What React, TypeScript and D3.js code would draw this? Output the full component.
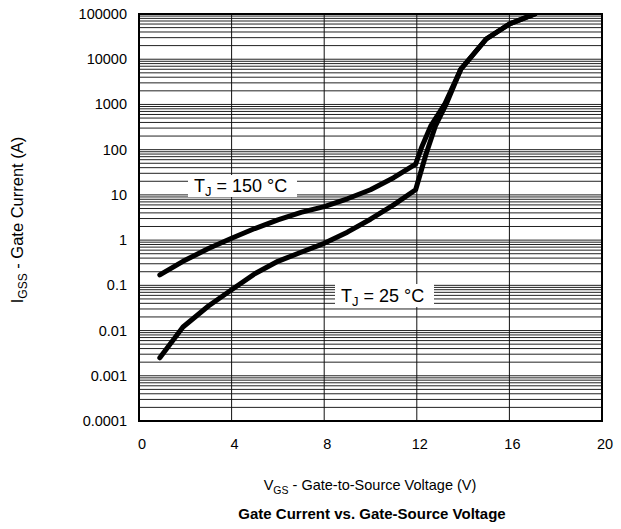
import * as d3 from "d3";
import React from "react";

// T_J = 150 °C curve
const vgs150 = [0.9, 1.9, 3, 4, 5, 6, 7, 8, 9, 10, 11, 11.95, 12.2, 12.6, 13.2, 13.9, 15, 16, 17.1];
const igss150 = [0.17, 0.34, 0.65, 1.1, 1.8, 2.8, 4.1, 5.5, 8.2, 13, 24, 48, 110, 330, 1000, 6000, 28000, 60000, 100000];

// T_J = 25 °C curve
const vgs25 = [0.9, 1.9, 3, 4, 5, 6, 7, 8, 9, 10, 11, 11.95, 12.4, 12.8, 13.3, 13.9, 15, 16, 17.1];
const igss25 = [0.0025, 0.012, 0.035, 0.08, 0.18, 0.34, 0.54, 0.85, 1.5, 2.9, 6, 13, 80, 330, 1100, 6000, 28000, 60000, 100000];

const xTicks = [0, 4, 8, 12, 16, 20];
const yTicks = [0.0001, 0.001, 0.01, 0.1, 1, 10, 100, 1000, 10000, 100000];
const yTickLabels = ["0.0001", "0.001", "0.01", "0.1", "1", "10", "100", "1000", "10000", "100000"];

const W = 621;
const H = 529;
const left = 139;
const right = 602;
const top = 14;
const bottom = 421;

const font = "'Liberation Sans', Arial, Helvetica, sans-serif";

export default function App() {
	const x = d3.scaleLinear().domain([0, 20]).range([left, right]);
	const y = d3.scaleLog().domain([0.0001, 100000]).range([bottom, top]);

	// minor grid: 1..9 x 10^n
	const grid: number[] = [];
	for (let e = -4; e <= 4; e++) {
		for (let k = 1; k <= 9; k++) grid.push(k * Math.pow(10, e));
	}

	const line = d3
		.line<[number, number]>()
		.x((d) => x(d[0]))
		.y((d) => y(d[1]));

	const pts150 = vgs150.map((v, i) => [v, igss150[i]] as [number, number]);
	const pts25 = vgs25.map((v, i) => [v, igss25[i]] as [number, number]);

	return (
		<svg
			width={W}
			height={H}
			style={{ position: "absolute", left: 0, top: 0, background: "#fff" }}
			fontFamily={font}
		>
			<rect x={0} y={0} width={W} height={H} fill="#fff" />
			{grid.map((g, i) => (
				<line
					key={"h" + i}
					x1={left}
					x2={right}
					y1={y(g)}
					y2={y(g)}
					stroke="#222"
					strokeWidth={1}
				/>
			))}
			{xTicks.slice(1, -1).map((t) => (
				<line key={"v" + t} x1={x(t)} x2={x(t)} y1={top} y2={bottom} stroke="#111" strokeWidth={1} />
			))}
			<rect
				x={left}
				y={top}
				width={right - left}
				height={bottom - top}
				fill="none"
				stroke="#000"
				strokeWidth={2}
			/>

			<defs>
				<clipPath id="plot">
					<rect x={left} y={top} width={right - left} height={bottom - top} />
				</clipPath>
			</defs>
			<g clipPath="url(#plot)">
				<path d={line(pts150) || ""} fill="none" stroke="#000" strokeWidth={5} strokeLinecap="round" strokeLinejoin="round" />
				<path d={line(pts25) || ""} fill="none" stroke="#000" strokeWidth={5} strokeLinecap="round" strokeLinejoin="round" />
			</g>

			{/* curve labels */}
			<rect x={188} y={175} width={109} height={22} fill="#fff" />
			<text x={194} y={192} fontSize={18} fill="#000">
				T<tspan fontSize={13} dy={4}>J</tspan>
				<tspan dy={-4}> = 150 °C</tspan>
			</text>
			<rect x={335} y={284} width={99} height={23} fill="#fff" />
			<text x={341} y={302} fontSize={18} fill="#000">
				T<tspan fontSize={13} dy={4}>J</tspan>
				<tspan dy={-4}> = 25 °C</tspan>
			</text>

			{/* y tick labels */}
			{yTicks.map((t, i) => (
				<text key={"yt" + i} x={127} y={y(t) + 5} textAnchor="end" fontSize={14.5} fill="#000">
					{yTickLabels[i]}
				</text>
			))}
			{/* x tick labels */}
			{xTicks.map((t) => (
				<text key={"xt" + t} x={x(t) + 3} y={449} textAnchor="middle" fontSize={14.5} fill="#000">
					{t}
				</text>
			))}

			{/* axis titles */}
			<text transform="translate(23,220) rotate(-90)" textAnchor="middle" fontSize={16.5} fill="#000">
				I<tspan fontSize={12} dy={4}>GSS</tspan>
				<tspan dy={-4}> - Gate Current (A)</tspan>
			</text>
			<text x={370} y={490} textAnchor="middle" fontSize={14.5} fill="#000">
				V<tspan fontSize={10.5} dy={4}>GS</tspan>
				<tspan dy={-4}> - Gate-to-Source Voltage (V)</tspan>
			</text>
			<text x={372} y={519} textAnchor="middle" fontSize={15} fontWeight="bold" fill="#000">
				Gate Current vs. Gate-Source Voltage
			</text>
		</svg>
	);
}
